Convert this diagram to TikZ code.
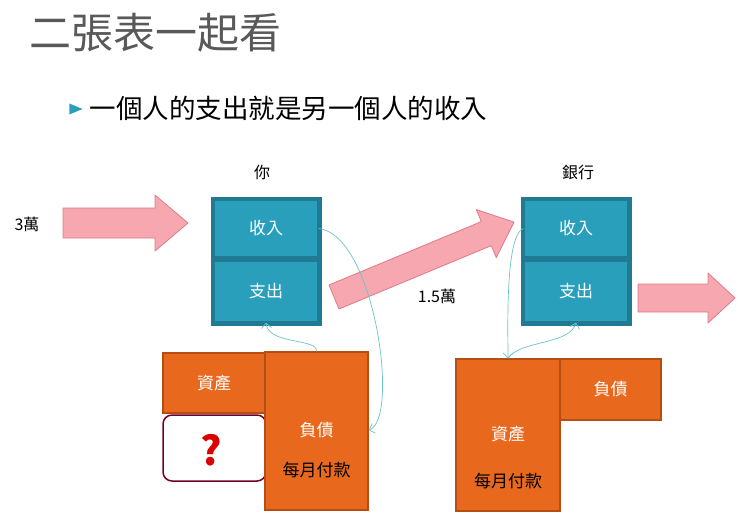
\documentclass[tikz,border=0pt]{standalone}
\usepackage{fontspec}
\setmainfont{Noto Sans CJK TC}
\usetikzlibrary{shapes.geometric,arrows.meta}
\definecolor{bl}{HTML}{2A9FBC}\definecolor{bld}{HTML}{1F7A92}
\definecolor{orf}{HTML}{E8681E}\definecolor{ord}{HTML}{B54E12}
\definecolor{pk}{HTML}{F7A7AF}\definecolor{pkd}{HTML}{E07A86}
\definecolor{ln}{HTML}{6CC3C9}
\tikzset{cell/.style={draw=bld,fill=bl,line width=1.2pt,text=white,font=\fontsize{17}{17}\selectfont},
orb/.style={draw=ord,fill=orf,line width=1.2pt,text=white,font=\fontsize{17}{17}\selectfont},
pkshape/.style={draw=pkd,fill=pk,line width=0.8pt,line join=round},
cv/.style={ln,line width=0.7pt,-{Straight Barb[length=5pt]}},
lbl/.style={font=\fontsize{16}{16}\selectfont}}
% #1 x, #2 y (tail centre), #3 angle, #4 length, #5 shaft half, #6 head half, #7 head length
\newcommand\myarrow[7]{\draw[pkshape,shift={(#1,#2)},rotate=#3] (0,-#5) -- ({#4-#7},-#5) -- ({#4-#7},-#6) -- (#4,0) -- ({#4-#7},#6) -- ({#4-#7},#5) -- (0,#5) -- cycle;}
\begin{document}
\begin{tikzpicture}[x=1pt,y=-1pt]
\useasboundingbox (0,0) rectangle (740,530);
\node[anchor=west,text=black!65,font=\fontsize{42}{42}\selectfont] (t) at (26,33) {二張表一起看};
\node[fill=bl,isosceles triangle,inner sep=0pt,minimum width=11pt,minimum height=7pt] (b) at (73,109) {};
\node[anchor=west,font=\fontsize{26.5}{26.5}\selectfont] (s) at (86,108) {一個人的支出就是另一個人的收入};
\node[lbl] (you) at (262,172) {你};
\node[lbl] (bank) at (578,172) {銀行};
% left blue
\draw[bld,fill=bld,line width=1pt] (211,197) rectangle (321,325);
\node[cell,minimum width=104pt,minimum height=56pt] (i1) at (266,228.5) {收入};
\node[cell,minimum width=104pt,minimum height=61pt] (e1) at (266,291.5) {支出};
% right blue
\draw[bld,fill=bld,line width=1pt] (521,197) rectangle (631,325);
\node[cell,minimum width=104pt,minimum height=56pt] (i2) at (576,228.5) {收入};
\node[cell,minimum width=104pt,minimum height=61pt] (e2) at (576,291.5) {支出};
% arrows
\myarrow{63}{223}{0}{125}{15}{28}{33}
\node[lbl] (l1) at (27,224) {3萬};
\myarrow{334}{297}{22.6}{195}{13}{26}{30}
\node[lbl] (l2) at (437,296) {1.5萬};
\myarrow{638}{298}{0}{97}{14}{25}{27}
% left orange
\node[orb,minimum width=102pt,minimum height=60pt] (as1) at (214,383) {資產};
\node[draw=black!40!purple,line width=1.5pt,fill=white,rounded corners=9pt,minimum width=103pt,minimum height=66pt] (q) at (214.5,448) {};
\node[text=red!85!black,font=\bfseries\fontsize{40}{40}\selectfont] (qm) at (211,450) {?};
\node[orb,minimum width=103pt,minimum height=158pt] (li1) at (316.5,431) {};
\node[text=white,font=\fontsize{17}{17}\selectfont] (li1t) at (316.5,430) {負債};
\node[font=\fontsize{17}{17}\selectfont] (m1) at (316.5,470) {每月付款};
% right orange
\node[orb,minimum width=101pt,minimum height=61pt] (li2) at (610.5,389.5) {負債};
\node[orb,minimum width=104pt,minimum height=152pt] (as2) at (508,435) {};
\node[text=white,font=\fontsize{17}{17}\selectfont] (as2t) at (508,434) {資產};
\node[font=\fontsize{17}{17}\selectfont] (m2) at (508,481) {每月付款};
% curves
\draw[cv] (i1.east) .. controls (375,235) and (400,420) .. (li1.east |- li1t);
\draw[cv] (li1.north) .. controls (318,338) and (268,345) .. (e1.south);
\draw[cv] (i2.west) .. controls (505,235) and (508,330) .. (as2.north);
\draw[cv] (as2.north) .. controls (520,340) and (570,345) .. (e2.south);
\end{tikzpicture}
\end{document}
